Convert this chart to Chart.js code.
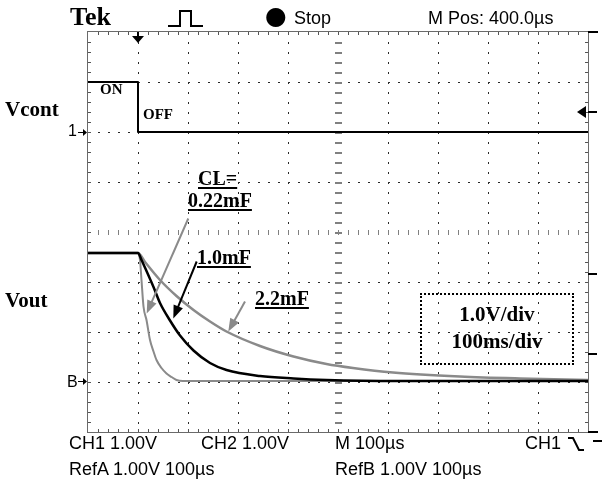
<!DOCTYPE html>
<html><head><meta charset="utf-8">
<script src="https://cdn.jsdelivr.net/npm/chart.js@4.4.1/dist/chart.umd.min.js"></script>
<style>
html,body{margin:0;padding:0;background:#fff;}
#wrap{position:relative;width:602px;height:486px;overflow:hidden;background:#fff;}
canvas{position:absolute;left:0;top:0;}
.t{position:absolute;white-space:nowrap;line-height:1;color:#000;}
.serif{font-family:"Liberation Serif","Times New Roman",serif;font-weight:bold;}
.sans{font-family:"Liberation Sans",Arial,sans-serif;font-size:18px;}
.u{text-decoration:underline;text-decoration-thickness:2px;text-underline-offset:2px;}
#box{position:absolute;left:420px;top:293px;width:150px;height:68px;border:2px dotted #000;}
</style></head>
<body><div id="wrap"><canvas id="c" width="602" height="486"></canvas>
<div class="t serif" style="left:70px;top:4px;font-size:26px;">Tek</div>
<div class="t" style="left:265px;top:3px;font-size:25px;font-family:'DejaVu Sans',sans-serif;">●</div>
<div class="t sans" style="left:294px;top:9px;">Stop</div>
<div class="t sans" style="left:428px;top:9px;">M Pos: 400.0µs</div>
<div class="t serif" style="left:5px;top:99px;font-size:21px;">Vcont</div>
<div class="t serif" style="left:5px;top:290px;font-size:21px;">Vout</div>
<div class="t sans" style="left:68px;top:123px;font-size:16px;">1</div>
<div class="t sans" style="left:67px;top:374px;font-size:16px;">B</div>
<div class="t serif" style="left:100px;top:82px;font-size:15px;">ON</div>
<div class="t serif" style="left:143px;top:107px;font-size:15px;">OFF</div>
<div class="t serif u" style="left:198px;top:168px;font-size:20px;">CL=</div>
<div class="t serif u" style="left:188px;top:190px;font-size:20px;">0.22mF</div>
<div class="t serif u" style="left:197px;top:247px;font-size:20px;">1.0mF</div>
<div class="t serif u" style="left:255px;top:288px;font-size:20px;">2.2mF</div>
<div id="box"></div>
<div class="t serif" style="left:420px;width:154px;text-align:center;top:304px;font-size:21px;">1.0V/div</div>
<div class="t serif" style="left:420px;width:154px;text-align:center;top:331px;font-size:21px;">100ms/div</div>
<div class="t sans" style="left:69px;top:434px;">CH1 1.00V</div>
<div class="t sans" style="left:201px;top:434px;">CH2 1.00V</div>
<div class="t sans" style="left:335px;top:434px;">M 100µs</div>
<div class="t sans" style="left:525px;top:434px;">CH1</div>
<div class="t sans" style="left:69px;top:460px;">RefA 1.00V 100µs</div>
<div class="t sans" style="left:335px;top:460px;">RefB 1.00V 100µs</div>
</div>
<script>
// ---- data (time in ms, voltage in V; 100 ms/div, 1 V/div) ----
const timeDivTicks = [0,100,200,300,400,500,600,700,800,900,1000];
const voltDivTicks = [-4,-3,-2,-1,0,1,2,3,4];

const vcontTime  = [0, 100, 100, 1000];
const vcontVolts = [3.0, 3.0, 2.0, 2.0];

const cl022Time  = [0, 100, 104, 107, 111, 117, 124, 131, 137, 147, 157, 167, 177, 190, 1000];
const cl022Volts = [-0.42, -0.42, -0.56, -0.96, -1.49, -1.76, -2.16, -2.39, -2.56, -2.72, -2.83, -2.90, -2.96, -2.98, -2.98];

const cl10Time  = [0, 100, 107, 117, 131, 144, 164, 184, 211, 244, 277, 344, 411, 477, 624, 1000];
const cl10Volts = [-0.42, -0.42, -0.56, -0.78, -1.10, -1.42, -1.77, -2.07, -2.37, -2.62, -2.76, -2.88, -2.93, -2.96, -2.98, -2.98];

const cl22Time  = [0, 100, 114, 144, 177, 211, 244, 277, 344, 411, 477, 530, 610, 744, 864, 1000];
const cl22Volts = [-0.42, -0.42, -0.60, -0.96, -1.28, -1.56, -1.79, -1.99, -2.28, -2.49, -2.64, -2.72, -2.81, -2.89, -2.93, -2.96];

// label arrows: [fromTime, fromVolt, toTime, toVolt]
const arrow022 = [200.6, 0.27, 117.4, -1.63];
const arrow10  = [217.4, -0.59, 170.6, -1.73];
const arrow22  = [314, -1.39, 280.6, -1.99];

const pts = (ts, vs) => ts.map((t, i) => ({x: t, y: vs[i]}));
const GRAY = '#8a8a8a';

function drawArrow(ctx, x, y, a, color){
  const x1 = x.getPixelForValue(a[0]), y1 = y.getPixelForValue(a[1]);
  const x2 = x.getPixelForValue(a[2]), y2 = y.getPixelForValue(a[3]);
  const ang = Math.atan2(y2 - y1, x2 - x1), L = 13, W = 5;
  ctx.strokeStyle = color; ctx.fillStyle = color; ctx.lineWidth = 2;
  ctx.beginPath(); ctx.moveTo(x1, y1);
  ctx.lineTo(x2 - Math.cos(ang) * L * 0.8, y2 - Math.sin(ang) * L * 0.8); ctx.stroke();
  ctx.beginPath(); ctx.moveTo(x2, y2);
  ctx.lineTo(x2 - Math.cos(ang) * L - Math.sin(ang) * W, y2 - Math.sin(ang) * L + Math.cos(ang) * W);
  ctx.lineTo(x2 - Math.cos(ang) * L + Math.sin(ang) * W, y2 - Math.sin(ang) * L - Math.cos(ang) * W);
  ctx.closePath(); ctx.fill();
}

const scopePlugin = {
  id: 'scope',
  beforeDatasetsDraw(chart){
    const {ctx, chartArea: a, scales: {x, y}} = chart;
    ctx.save();
    // dotted graticule
    ctx.fillStyle = '#2a2a2a';
    timeDivTicks.forEach(t => {
      if (t === 0 || t === 1000 || t === 500) return;
      const px = Math.round(x.getPixelForValue(t));
      for (let py = a.top + 10; py < a.bottom; py += 10) ctx.fillRect(px, py, 1, 2);
    });
    voltDivTicks.forEach(v => {
      if (v === -4 || v === 4 || v === 0) return;
      const py = Math.round(y.getPixelForValue(v));
      for (let px = a.left + 10; px < a.right; px += 10) ctx.fillRect(px, py, 2, 1);
    });
    // centre cross with minor ticks
    ctx.fillStyle = '#808080';
    const cx = Math.round(x.getPixelForValue(500)), cy = Math.round(y.getPixelForValue(0));
    for (let py = a.top + 10; py < a.bottom; py += 10) ctx.fillRect(cx - 3, py, 7, 2);
    for (let px = a.left + 10; px < a.right; px += 10) ctx.fillRect(px, cy - 2, 1, 5);
    // border with ruler ticks
    ctx.strokeStyle = '#6a6a6a'; ctx.lineWidth = 1;
    ctx.strokeRect(a.left - 0.5, a.top - 0.5, a.right - a.left + 1, a.bottom - a.top + 1);
    ctx.fillStyle = '#555';
    for (let px = a.left + 10; px < a.right; px += 10) { ctx.fillRect(px, a.top, 1, 3); ctx.fillRect(px, a.bottom - 3, 1, 3); }
    for (let py = a.top + 10; py < a.bottom; py += 10) { ctx.fillRect(a.left, py, 3, 1); ctx.fillRect(a.right - 3, py, 3, 1); }
    ctx.restore();
  },
  afterDatasetsDraw(chart){
    const {ctx, chartArea: a, scales: {x, y}} = chart;
    ctx.save();
    drawArrow(ctx, x, y, arrow022, GRAY);
    drawArrow(ctx, x, y, arrow10, '#000');
    drawArrow(ctx, x, y, arrow22, GRAY);
    ctx.fillStyle = '#000'; ctx.strokeStyle = '#000';
    // trigger position marker (top)
    const tx = Math.round(x.getPixelForValue(100));
    ctx.fillRect(tx - 1, a.top, 2, 5);
    ctx.beginPath(); ctx.moveTo(tx - 6, a.top + 4); ctx.lineTo(tx + 6, a.top + 4); ctx.lineTo(tx, a.top + 11); ctx.closePath(); ctx.fill();
    // channel ground markers (left)
    [vcontVolts[3], cl10Volts[cl10Volts.length - 1]].forEach(v => {
      const py = Math.round(y.getPixelForValue(v));
      ctx.fillRect(a.left - 10, py, 7, 1);
      ctx.beginPath(); ctx.moveTo(a.left - 1, py + 0.5); ctx.lineTo(a.left - 5, py - 3); ctx.lineTo(a.left - 5, py + 4); ctx.closePath(); ctx.fill();
    });
    // right side markers
    [2.42, -0.81, -2.41].forEach((v, i) => {
      const py = Math.round(y.getPixelForValue(v));
      ctx.fillRect(a.right, py, 9, 2);
      if (i === 0) { ctx.beginPath(); ctx.moveTo(a.right - 11, py + 1); ctx.lineTo(a.right - 2, py - 5); ctx.lineTo(a.right - 2, py + 7); ctx.closePath(); ctx.fill(); }
    });
    ctx.fillRect(a.right, a.top - 1, 10, 2);
    ctx.fillRect(a.right, a.bottom - 1, 10, 2);
    // pulse glyph (top bar)
    ctx.lineWidth = 2;
    ctx.beginPath(); ctx.moveTo(168, 26); ctx.lineTo(180, 26); ctx.lineTo(180, 11); ctx.lineTo(191, 11); ctx.lineTo(191, 26); ctx.lineTo(203, 26); ctx.stroke();
    // falling slope glyph (bottom bar)
    ctx.beginPath(); ctx.moveTo(568, 438); ctx.lineTo(573, 438); ctx.lineTo(579, 450); ctx.lineTo(584, 450); ctx.stroke();
    ctx.fillRect(593, 440, 9, 2);
    ctx.restore();
  }
};

new Chart(document.getElementById('c'), {
  type: 'line',
  data: {
    datasets: [
      {label: 'Vcont', data: pts(vcontTime, vcontVolts), borderColor: '#000', borderWidth: 2, cubicInterpolationMode: 'default', tension: 0},
      {label: 'CL=1.0mF', data: pts(cl10Time, cl10Volts), borderColor: '#000', borderWidth: 2.5, cubicInterpolationMode: 'monotone'},
      {label: 'CL=0.22mF', data: pts(cl022Time, cl022Volts), borderColor: GRAY, borderWidth: 2, cubicInterpolationMode: 'monotone'},
      {label: 'CL=2.2mF', data: pts(cl22Time, cl22Volts), borderColor: GRAY, borderWidth: 2.5, cubicInterpolationMode: 'monotone'}
    ]
  },
  options: {
    responsive: false, animation: false, devicePixelRatio: 1,
    layout: {padding: {left: 88, top: 32, right: 14, bottom: 54}},
    elements: {point: {radius: 0}, line: {fill: false, borderJoinStyle: 'round'}},
    plugins: {legend: {display: false}, tooltip: {enabled: false}},
    scales: {
      x: {type: 'linear', display: false, min: timeDivTicks[0], max: timeDivTicks[timeDivTicks.length - 1]},
      y: {type: 'linear', display: false, min: voltDivTicks[0], max: voltDivTicks[voltDivTicks.length - 1]}
    }
  },
  plugins: [scopePlugin]
});
</script>
</body></html>
